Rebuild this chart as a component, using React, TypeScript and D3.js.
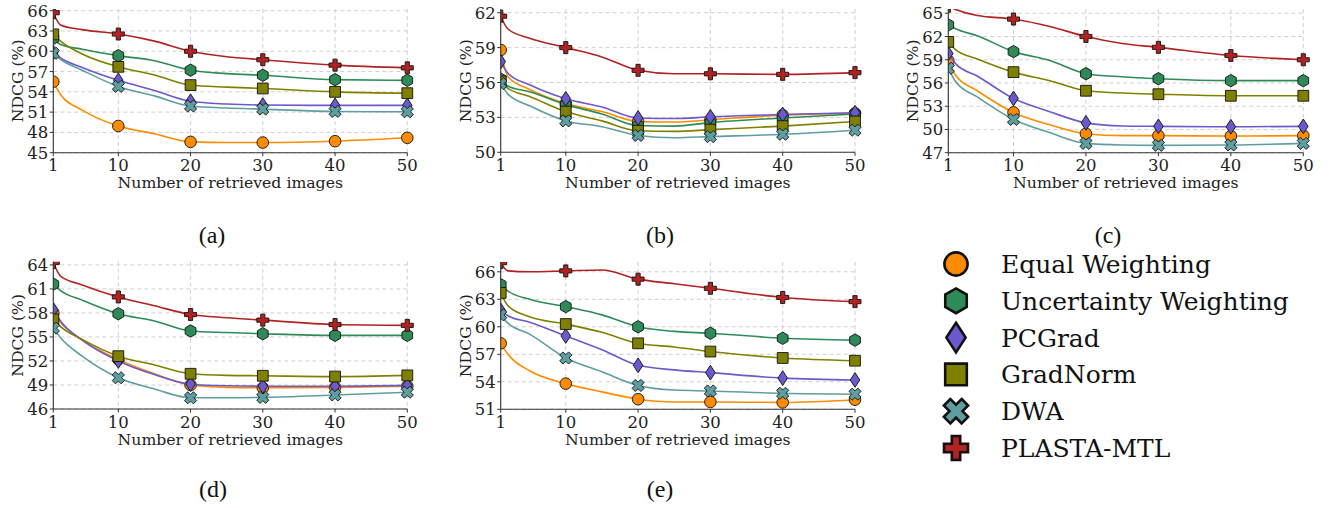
import React from "react";
import * as d3 from "d3";

// x positions of the sampled curve points and of the markers
const xLine = [1, 2, 5, 10, 15, 20, 25, 30, 40, 50];
const xMarks = [1, 10, 20, 30, 40, 50];
const xTicks = [1, 10, 20, 30, 40, 50];

const methods = ["Equal Weighting", "Uncertainty Weighting", "PCGrad", "GradNorm", "DWA", "PLASTA-MTL"];
const colors = ["#ff8c00", "#2e8b57", "#6a5acd", "#808000", "#5f9ea0", "#b22222"];
const shapes = ["o", "h", "d", "s", "X", "P"];

// NDCG values per method, same order as `methods`
const panelA = [
  [55.5, 53.6, 51.3, 48.95, 47.8, 46.6, 46.5, 46.5, 46.7, 47.2],
  [61.9, 61.0, 60.3, 59.35, 58.6, 57.2, 56.7, 56.45, 55.8, 55.7],
  [59.8, 59.0, 57.6, 55.7, 54.2, 52.6, 52.2, 52.05, 52.0, 52.0],
  [62.5, 61.5, 59.6, 57.7, 56.5, 55.0, 54.7, 54.5, 54.0, 53.8],
  [59.7, 58.8, 57.2, 54.8, 53.4, 51.9, 51.6, 51.45, 51.1, 51.05],
  [65.7, 63.9, 63.2, 62.55, 61.5, 60.0, 59.2, 58.75, 57.95, 57.55],
];
const panelB = [
  [58.8, 56.5, 55.4, 54.2, 53.5, 52.65, 52.6, 52.8, 53.2, 53.35],
  [56.3, 55.7, 55.2, 54.1, 53.3, 52.3, 52.25, 52.55, 52.95, 53.3],
  [57.8, 56.8, 55.8, 54.6, 53.9, 52.95, 52.9, 53.05, 53.25, 53.4],
  [56.1, 55.5, 54.8, 53.5, 52.7, 51.85, 51.8, 51.95, 52.25, 52.65],
  [55.9, 55.0, 54.0, 52.7, 52.2, 51.45, 51.25, 51.35, 51.55, 51.9],
  [61.7, 60.6, 59.8, 59.0, 58.2, 57.05, 56.75, 56.75, 56.7, 56.85],
];
const panelC = [
  [58.9, 57.0, 55.0, 52.2, 50.6, 49.45, 49.2, 49.2, 49.15, 49.2],
  [63.5, 63.0, 62.1, 60.05, 58.9, 57.2, 56.8, 56.55, 56.3, 56.3],
  [59.8, 58.5, 56.9, 54.0, 52.3, 50.85, 50.45, 50.4, 50.35, 50.4],
  [61.3, 60.3, 59.1, 57.4, 56.3, 55.0, 54.7, 54.55, 54.35, 54.35],
  [57.9, 56.2, 54.2, 51.3, 49.6, 48.2, 48.0, 47.95, 48.0, 48.2],
  [65.9, 65.5, 64.7, 64.25, 63.3, 62.0, 61.1, 60.6, 59.55, 59.0],
];
const panelD = [
  [58.0, 56.8, 54.6, 52.2, 50.4, 49.0, 48.7, 48.65, 48.7, 48.85],
  [61.6, 60.8, 59.6, 57.9, 57.0, 55.75, 55.55, 55.4, 55.2, 55.2],
  [58.4, 57.0, 54.6, 52.0, 50.3, 49.1, 48.9, 48.85, 48.85, 48.95],
  [57.2, 56.3, 54.7, 52.6, 51.5, 50.4, 50.2, 50.15, 50.05, 50.2],
  [56.1, 54.9, 52.6, 49.9, 48.5, 47.4, 47.4, 47.45, 47.75, 48.1],
  [64.3, 62.6, 61.5, 60.0, 58.9, 57.8, 57.4, 57.1, 56.55, 56.45],
];
const panelE = [
  [58.2, 57.0, 55.2, 53.8, 52.9, 52.1, 51.8, 51.8, 51.75, 52.05],
  [64.6, 63.9, 63.0, 62.2, 61.3, 60.0, 59.5, 59.3, 58.75, 58.55],
  [61.8, 61.2, 60.5, 59.0, 57.5, 55.8, 55.3, 55.0, 54.4, 54.2],
  [63.7, 62.3, 61.1, 60.3, 59.4, 58.2, 57.8, 57.3, 56.6, 56.3],
  [61.3, 60.4, 59.2, 56.6, 55.1, 53.6, 53.1, 53.0, 52.75, 52.65],
  [67.0, 66.1, 66.0, 66.1, 66.2, 65.2, 64.7, 64.2, 63.2, 62.75],
];

const yTicksA = [45, 48, 51, 54, 57, 60, 63, 66];
const yTicksB = [50, 53, 56, 59, 62];
const yTicksC = [47, 50, 53, 56, 59, 62, 65];
const yTicksD = [46, 49, 52, 55, 58, 61, 64];
const yTicksE = [51, 54, 57, 60, 63, 66];

const serif = "'DejaVu Serif', serif";

const panels = [
  { id: "a", data: panelA, ticks: yTicksA, ylim: [45, 66.25], box: [53.3, 407.3, 9, 152.7], cap: [212, 243] },
  { id: "b", data: panelB, ticks: yTicksB, ylim: [50, 62.32], box: [500.7, 855, 9, 152.3], cap: [660, 243] },
  { id: "c", data: panelC, ticks: yTicksC, ylim: [47, 65.55], box: [948.3, 1303.3, 9, 152.7], cap: [1108, 243] },
  { id: "d", data: panelD, ticks: yTicksD, ylim: [46, 64.4], box: [53.3, 407.3, 261.7, 409], cap: [213, 497] },
  { id: "e", data: panelE, ticks: yTicksE, ylim: [51, 67.07], box: [500.7, 855, 262, 409.3], cap: [660, 497] },
];

function poly(pts: number[][]) {
  return "M" + pts.map((p) => p[0].toFixed(2) + "," + p[1].toFixed(2)).join("L") + "Z";
}

function plusPts(s: number, t: number) {
  return [
    [-t, -s], [t, -s], [t, -t], [s, -t], [s, t], [t, t],
    [t, s], [-t, s], [-t, t], [-s, t], [-s, -t], [-t, -t],
  ];
}

// marker outline centred on 0,0; k scales the whole thing
function markerPath(kind: string, k: number) {
  if (kind === "o") {
    const r = 5.8 * k;
    return `M${-r},0A${r},${r} 0 1,0 ${r},0A${r},${r} 0 1,0 ${-r},0Z`;
  }
  if (kind === "h") {
    const r = 6.2 * k;
    return poly(d3.range(6).map((i) => {
      const a = ((-90 + 60 * i) * Math.PI) / 180;
      return [r * Math.cos(a), r * Math.sin(a)];
    }));
  }
  if (kind === "d") {
    const h = 7.4 * k, w = 4.8 * k;
    return poly([[0, -h], [w, 0], [0, h], [-w, 0]]);
  }
  if (kind === "s") {
    const a = 5.4 * k;
    return poly([[-a, -a], [a, -a], [a, a], [-a, a]]);
  }
  if (kind === "X") {
    const c = Math.SQRT1_2;
    return poly(plusPts(6.3 * k, 2.3 * k).map(([x, y]) => [c * (x - y), c * (x + y)]));
  }
  return poly(plusPts(6.0 * k, 2.1 * k));
}

function Panel({ p }: { p: any }) {
  const [x0, x1, y0, y1] = p.box;
  const x = d3.scaleLinear().domain([1, 50]).range([x0, x1]);
  const y = d3.scaleLinear().domain(p.ylim).range([y1, y0]);
  const line = d3.line<number>()
    .x((_, i) => x(xLine[i]))
    .y((d) => y(d))
    .curve(d3.curveMonotoneX);
  const clipId = "clip-" + p.id;
  const grid = "#d0d0d0";
  return (
    <g>
      <defs>
        <clipPath id={clipId}>
          <rect x={x0} y={y0} width={x1 - x0 + 12} height={y1 - y0} />
        </clipPath>
      </defs>
      {p.ticks.map((t: number) => (
        <line key={"gy" + t} x1={x0} x2={x1} y1={y(t)} y2={y(t)} stroke={grid} strokeWidth={1} strokeDasharray="4,3" />
      ))}
      {xTicks.map((t) => (
        <line key={"gx" + t} x1={x(t)} x2={x(t)} y1={y0} y2={y1} stroke={grid} strokeWidth={1} strokeDasharray="4,3" />
      ))}
      <g clipPath={`url(#${clipId})`}>
        {p.data.map((vals: number[], si: number) => (
          <g key={si}>
            <path d={line(vals) || ""} fill="none" stroke={colors[si]} strokeWidth={1.6} />
            {xLine.map((xv, i) =>
              xMarks.includes(xv) ? (
                <path
                  key={i}
                  d={markerPath(shapes[si], 1)}
                  transform={`translate(${x(xv)},${y(vals[i])})`}
                  fill={colors[si]}
                  stroke="#111"
                  strokeWidth={0.9}
                />
              ) : null
            )}
          </g>
        ))}
      </g>
      <line x1={x0} x2={x0} y1={y0} y2={y1} stroke="#333" strokeWidth={1.1} />
      <line x1={x0} x2={x1} y1={y1} y2={y1} stroke="#333" strokeWidth={1.1} />
      {p.ticks.map((t: number) => (
        <g key={"ty" + t}>
          <line x1={x0 - 3.5} x2={x0} y1={y(t)} y2={y(t)} stroke="#333" strokeWidth={1} />
          <text x={x0 - 5} y={y(t) + 6} textAnchor="end" fontSize={16.5} fontFamily={serif} fill="#222">
            {t}
          </text>
        </g>
      ))}
      {xTicks.map((t) => (
        <g key={"tx" + t}>
          <line x1={x(t)} x2={x(t)} y1={y1} y2={y1 + 3.5} stroke="#333" strokeWidth={1} />
          <text x={x(t)} y={y1 + 18.5} textAnchor="middle" fontSize={16.5} fontFamily={serif} fill="#222">
            {t}
          </text>
        </g>
      ))}
      <text x={(x0 + x1) / 2} y={y1 + 35.6} textAnchor="middle" fontSize={15.7} fontFamily={serif} fill="#222">
        Number of retrieved images
      </text>
      <text
        transform={`translate(${x0 - 30},${(y0 + y1) / 2}) rotate(-90)`}
        textAnchor="middle"
        fontSize={15.7}
        fontFamily={serif}
        fill="#222"
      >
        NDCG (%)
      </text>
      <text x={p.cap[0]} y={p.cap[1]} textAnchor="middle" fontSize={24} fontFamily="'Liberation Serif', serif" fill="#111">
        ({p.id})
      </text>
    </g>
  );
}

export default function App() {
  const legendY = d3.scaleLinear().domain([0, 5]).range([264, 448]);
  return (
    <svg width={1335} height={508} style={{ position: "absolute", left: 0, top: 0, background: "#fff" }}>
      {panels.map((p) => (
        <Panel key={p.id} p={p} />
      ))}
      <g>
        {methods.map((m, i) => (
          <g key={m}>
            <path
              d={markerPath(shapes[i], 2)}
              transform={`translate(956,${legendY(i)})`}
              fill={colors[i]}
              stroke="#111"
              strokeWidth={2.6}
            />
            <text x={1001} y={legendY(i) + 9} fontSize={25} fontFamily={serif} fill="#111">
              {m}
            </text>
          </g>
        ))}
      </g>
    </svg>
  );
}
